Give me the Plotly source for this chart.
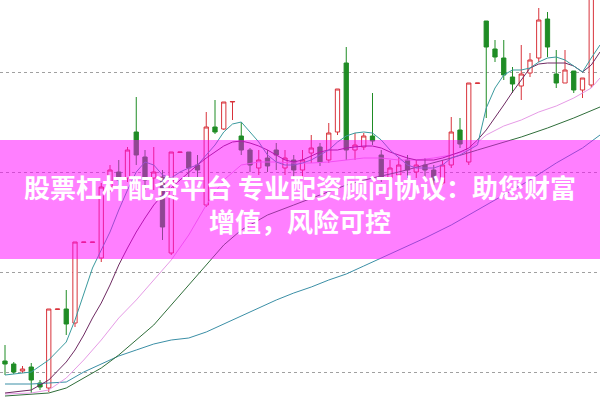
import plotly.graph_objects as go

# ---- candle data (index, OHLC) ----
idx = list(range(68))
open_ = [10.11, 10.08, 10.01, 10.05, 9.89, 9.84, 10.625, 10.63, 10.49, 11.295,
         11.295, 11.14, 11.85, 12.00, 11.94, 12.40, 12.15, 11.94, 11.95, 11.19,
         12.195, 12.20, 12.07, 11.67, 12.45, 12.43, 12.70, 12.36, 12.22, 12.04,
         12.14, 12.22, 12.04, 12.12, 12.02, 12.19, 12.25, 12.12, 12.40, 13.09,
         12.22, 12.25, 12.36, 12.17, 11.94, 11.97, 12.12, 12.00, 12.07, 12.02,
         11.89, 12.07, 12.42, 12.10, 12.885, 13.51, 13.23, 13.14, 12.95, 12.86,
         12.99, 13.14, 13.53, 12.98, 12.89, 13.01, 12.82, 12.87]
high = [10.27, 10.10, 10.06, 10.09, 9.92, 10.63, 10.63, 10.82, 11.30, 11.30,
        11.30, 11.89, 12.07, 12.12, 12.25, 12.75, 12.22, 12.25, 12.02, 12.20,
        12.20, 12.20, 12.17, 12.60, 12.72, 12.70, 12.705, 12.50, 12.24, 12.22,
        12.22, 12.29, 12.22, 12.17, 12.22, 12.37, 12.29, 12.49, 12.83, 13.25,
        12.39, 12.39, 12.79, 12.22, 12.12, 12.15, 12.17, 12.12, 12.14, 12.07,
        12.12, 12.55, 12.54, 12.89, 12.89, 13.51, 13.32, 13.32, 13.05, 13.27,
        13.19, 13.64, 13.60, 13.22, 13.22, 13.01, 12.94, 14.12]
low = [9.97, 9.98, 9.99, 9.79, 9.82, 9.80, 10.625, 10.37, 10.45, 11.295,
       11.295, 11.10, 11.80, 11.87, 11.90, 12.07, 11.82, 11.82, 11.32, 11.17,
       12.195, 11.92, 11.92, 11.65, 12.38, 12.42, 12.52, 12.17, 12.00, 11.97,
       12.00, 12.02, 11.97, 11.94, 11.94, 12.09, 12.06, 12.09, 12.37, 12.12,
       12.12, 12.22, 12.27, 11.90, 11.90, 11.92, 11.94, 11.94, 11.92, 11.87,
       11.87, 12.04, 12.24, 12.07, 12.885, 12.54, 13.10, 12.92, 12.79, 12.72,
       12.95, 13.10, 13.15, 12.84, 12.89, 12.79, 12.74, 12.84]
close = [10.08, 10.00, 10.03, 9.92, 9.85, 10.63, 10.63, 10.48, 11.30, 11.30,
         11.30, 11.85, 12.02, 11.92, 12.22, 12.17, 11.92, 12.00, 11.45, 12.20,
         12.20, 12.04, 12.02, 12.45, 12.40, 12.70, 12.705, 12.22, 12.07, 12.12,
         12.06, 12.17, 12.14, 12.02, 12.12, 12.24, 12.10, 12.39, 12.83, 12.22,
         12.27, 12.36, 12.31, 11.94, 12.04, 12.07, 12.02, 12.07, 12.02, 11.92,
         12.07, 12.40, 12.28, 12.89, 12.89, 13.25, 13.15, 12.97, 12.88, 12.98,
         13.12, 13.52, 13.25, 12.89, 13.02, 12.82, 12.94, 13.92]

# ---- moving average lines ----
ma5_x = [0, 3, 5, 7, 8, 9, 10, 11, 12, 13, 14, 15, 16, 17, 18, 19, 20, 21, 22, 23,
         24, 25, 26, 27, 28, 29, 30, 31, 32, 33, 34, 35, 36, 37, 38, 39, 40, 41, 42,
         43, 44, 45, 46, 47, 48, 49, 50, 51, 52, 53, 54, 55, 56, 57, 58, 59, 60, 61,
         62, 63, 64, 65, 66, 67, 68]
ma5_y = [9.97, 10.00, 10.12, 10.30, 10.52, 10.77, 11.04, 11.22, 11.40, 11.62, 11.82,
         12.00, 12.10, 12.07, 11.97, 11.94, 12.00, 12.04, 12.07, 12.17, 12.27, 12.40,
         12.48, 12.50, 12.40, 12.30, 12.17, 12.10, 12.07, 12.07, 12.09, 12.12, 12.17,
         12.22, 12.30, 12.36, 12.39, 12.40, 12.39, 12.32, 12.22, 12.14, 12.07, 12.04,
         12.04, 12.04, 12.07, 12.14, 12.17, 12.22, 12.27, 12.64, 12.84, 12.97, 13.02,
         13.02, 13.04, 13.10, 13.14, 13.15, 13.12, 13.06, 13.00, 13.14, 13.27]
ma10_x = ma5_x
ma10_y = [9.79, 9.82, 9.92, 10.10, 10.22, 10.37, 10.54, 10.69, 10.87, 11.07, 11.24,
          11.40, 11.54, 11.67, 11.77, 11.84, 11.92, 12.00, 12.07, 12.14, 12.20, 12.26,
          12.30, 12.31, 12.29, 12.26, 12.22, 12.17, 12.12, 12.10, 12.12, 12.16, 12.20,
          12.22, 12.22, 12.24, 12.25, 12.26, 12.26, 12.24, 12.20, 12.17, 12.14, 12.12,
          12.12, 12.12, 12.14, 12.17, 12.20, 12.24, 12.32, 12.42, 12.54, 12.67, 12.80,
          12.92, 13.04, 13.08, 13.09, 13.09, 13.09, 13.06, 13.00, 13.07, 13.20]
ma20_x = [0, 3, 5, 7, 9, 11, 13, 15, 17, 19, 21, 23, 25, 27, 29, 31, 33, 35, 37, 39,
          41, 43, 45, 47, 49, 51, 53, 55, 57, 59, 61, 63, 65, 67, 68]
ma20_y = [9.78, 9.79, 9.82, 9.94, 10.12, 10.32, 10.54, 10.72, 10.92, 11.12, 11.37,
          11.67, 11.92, 12.07, 12.10, 12.10, 12.09, 12.09, 12.10, 12.12, 12.14, 12.14,
          12.12, 12.12, 12.14, 12.17, 12.22, 12.37, 12.46, 12.52, 12.60, 12.66, 12.74,
          12.84, 12.94]
ma30_x = [0, 5, 7, 9, 11, 13, 15, 17, 19, 21, 23, 25, 27, 30, 33, 36, 39, 42, 45, 48,
          51, 54, 57, 59, 62, 65, 68]
ma30_y = [9.76, 9.79, 9.84, 9.94, 10.04, 10.17, 10.32, 10.47, 10.67, 10.87, 11.07,
          11.27, 11.42, 11.57, 11.67, 11.77, 11.87, 11.94, 12.00, 12.07, 12.14, 12.22,
          12.30, 12.35, 12.44, 12.54, 12.65]
ma60_x = [0, 3, 5, 7, 9, 11, 13, 15, 17, 19, 21, 23, 25, 27, 29, 31, 33, 35, 37, 39,
          41, 43, 45, 48, 51, 54, 57, 60, 63, 66, 68]
ma60_y = [9.88, 9.88, 9.89, 9.90, 10.00, 10.08, 10.16, 10.22, 10.28, 10.32, 10.34,
          10.40, 10.48, 10.56, 10.64, 10.72, 10.79, 10.85, 10.92, 10.98, 11.06, 11.14,
          11.22, 11.34, 11.47, 11.62, 11.77, 11.92, 12.09, 12.24, 12.37]

grid_levels = [10, 11, 12, 13]
banner_lines = ["股票杠杆配资平台 专业配资顾问协议：助您财富", "增值，风险可控"]

RED = "#d8333b"
GREEN = "#1f8c25"

fig = go.Figure()
fig.add_trace(go.Candlestick(
    x=idx, open=open_, high=high, low=low, close=close,
    increasing=dict(line=dict(color=RED, width=1), fillcolor="white"),
    decreasing=dict(line=dict(color=GREEN, width=1), fillcolor=GREEN),
    whiskerwidth=0, showlegend=False, hoverinfo="skip",
))
for xs, ys, col in [
    (ma60_x, ma60_y, "#3b8fa6"),
    (ma30_x, ma30_y, "#2f6e3a"),
    (ma20_x, ma20_y, "#e69be6"),
    (ma10_x, ma10_y, "#6e2a62"),
    (ma5_x, ma5_y, "#3a9a9e"),
]:
    fig.add_trace(go.Scatter(x=xs, y=ys, mode="lines",
                             line=dict(color=col, width=1),
                             showlegend=False, hoverinfo="skip"))

fig.add_shape(type="rect", xref="paper", yref="paper", x0=0, x1=1,
              y0=0.3525, y1=0.65, fillcolor="rgba(255,0,255,0.5)",
              line=dict(width=0), layer="above")
fig.add_annotation(text="<br>".join(banner_lines), xref="paper", yref="paper",
                   x=0.5, y=0.492, showarrow=False, xanchor="center",
                   yanchor="middle", align="center",
                   font=dict(family="Noto Sans CJK SC", size=26,
                             color="white", weight=700))

fig.update_layout(
    width=600, height=400, margin=dict(l=0, r=0, t=0, b=0),
    paper_bgcolor="white", plot_bgcolor="white", hovermode=False,
    xaxis=dict(range=[-0.571, 68.0], showgrid=False, zeroline=False,
               showticklabels=False, rangeslider=dict(visible=False),
               fixedrange=True),
    yaxis=dict(range=[9.72, 13.72], tickvals=grid_levels, showgrid=True,
               gridcolor="#a0a0a0", griddash="dot", gridwidth=1,
               zeroline=False, showticklabels=False, fixedrange=True),
)
fig.write_html("out.html", config={"displayModeBar": False},
               post_script="document.body.style.margin='0';"
                           "document.body.style.overflow='hidden';")
